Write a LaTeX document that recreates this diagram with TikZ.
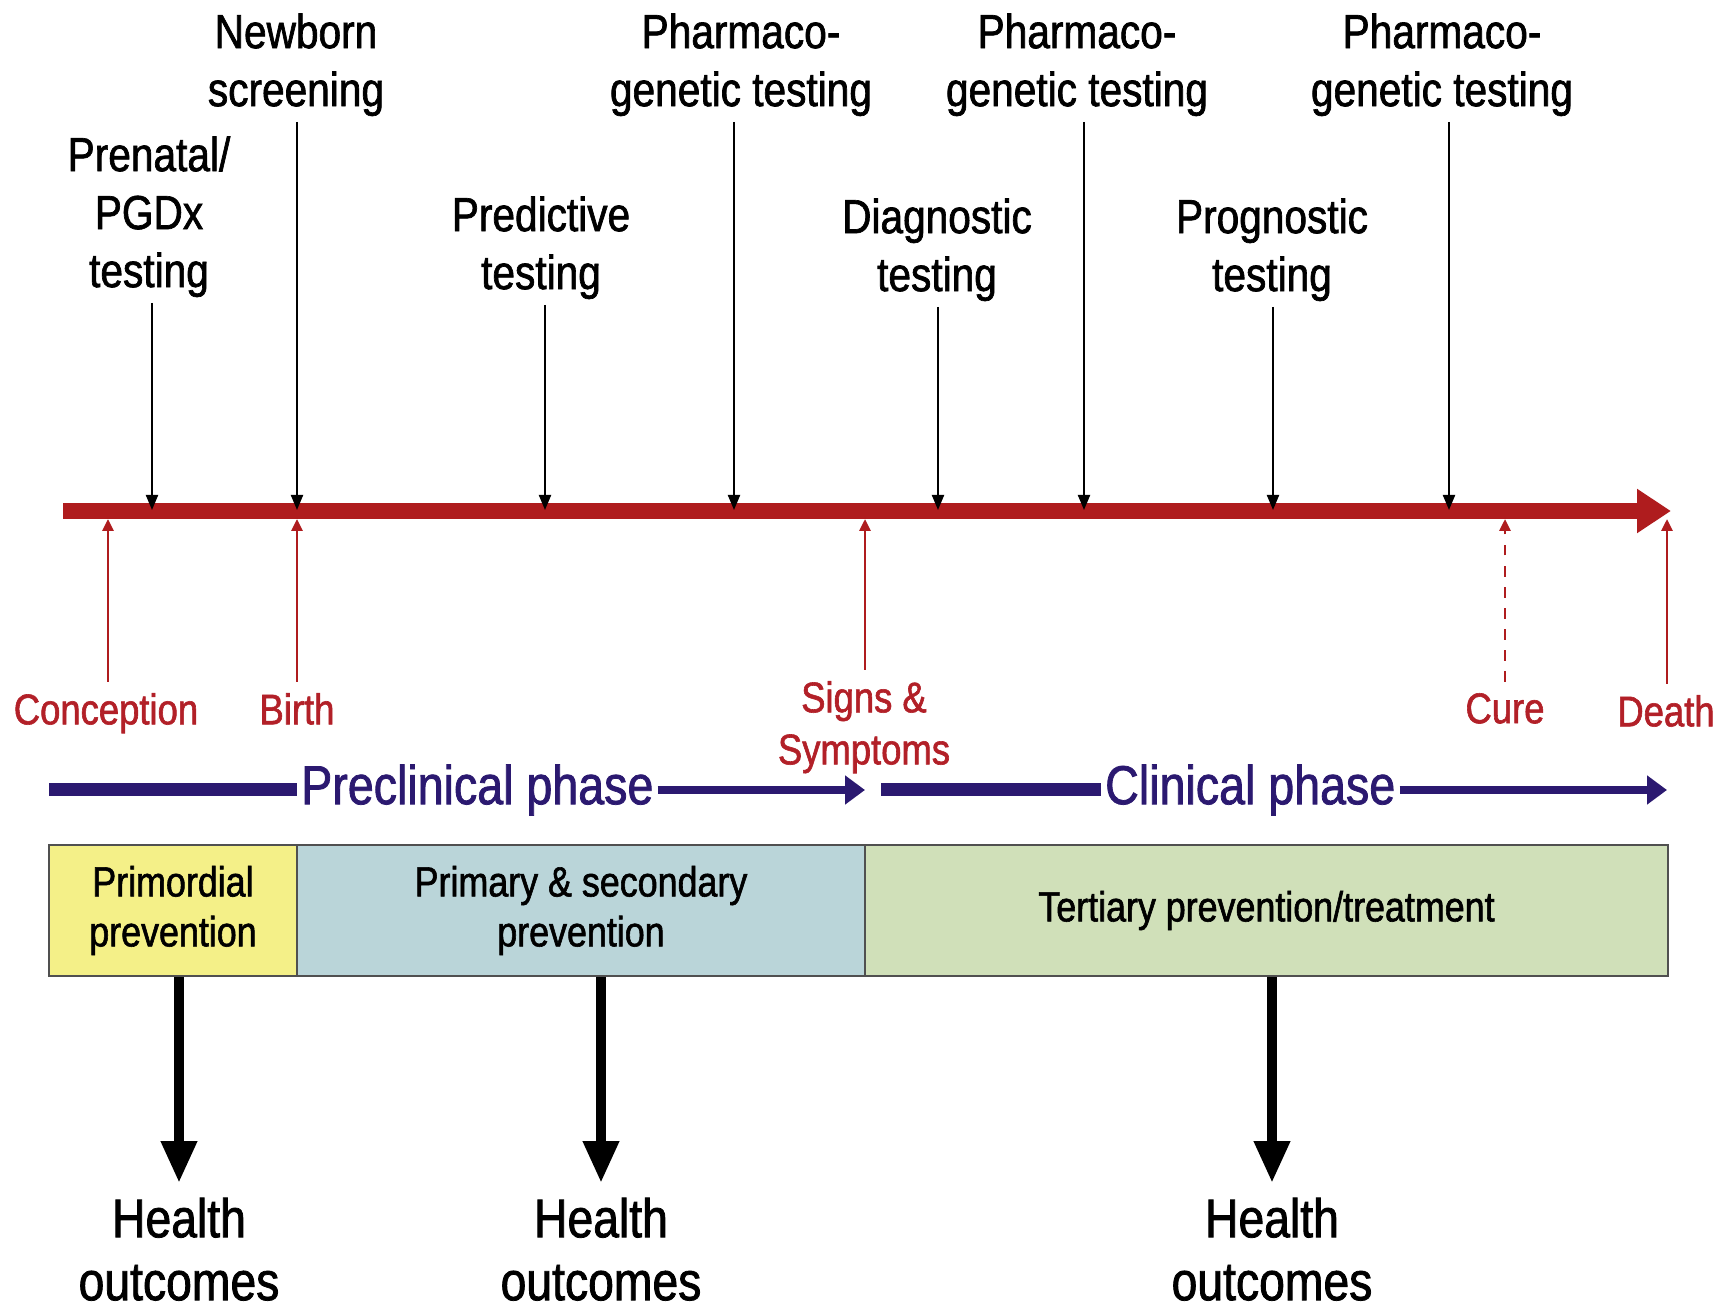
\documentclass[tikz,border=0pt]{standalone}
\usepackage{fontspec}
\setmainfont{Liberation Sans}[FakeStretch=0.85, FakeBold=1.4]
\usetikzlibrary{arrows.meta}
\definecolor{lifered}{RGB}{175,28,30}
\definecolor{eventred}{RGB}{178,32,40}
\definecolor{phaseblue}{RGB}{43,25,112}
\definecolor{stageyellow}{RGB}{244,240,136}
\definecolor{stageblue}{RGB}{186,213,217}
\definecolor{stagegreen}{RGB}{208,224,185}
\definecolor{stageline}{RGB}{80,80,80}
\begin{document}
\begin{tikzpicture}[x=0.1mm, y=-0.1mm,
  timeline/.style={lifered, line width=1.6mm, -{Triangle[length=3.4mm,width=4.2mm]}},
  test/.style={align=center, font=\fontsize{13.6}{16.5}\selectfont, inner sep=1.5pt},
  testarrow/.style={line width=0.6pt, -{Triangle[length=1.5mm,width=1.2mm]}},
  event/.style={eventred, align=center, font=\fontsize{12.2}{14.8}\selectfont, inner sep=3pt},
  eventarrow/.style={lifered, line width=0.8pt, -{Triangle[length=1.2mm,width=1.1mm]}},
  phase/.style={phaseblue, font=\fontsize{15.6}{18}\selectfont, inner sep=1pt},
  phasebar/.style={phaseblue, line width=1.3mm},
  phasearrow/.style={phaseblue, line width=0.75mm, -{Triangle[length=2mm,width=2.8mm]}},
  stage/.style={draw=stageline, line width=0.6pt, minimum height=13.1mm, align=center, font=\fontsize{12}{14.2}\selectfont},
  outcome/.style={align=center, font=\fontsize{15.5}{17.9}\selectfont, inner sep=4pt},
  outarrow/.style={line width=1mm, -{Triangle[length=4.2mm,width=3.4mm]}}
]
\useasboundingbox (0,0) rectangle (1715,1307);

% life course line
\coordinate (tl0) at (63,511);
\coordinate (tl1) at (1671,511);
\draw[timeline] (tl0) -- (tl1);

% tests from above
\coordinate (tp1) at (152,510);
\coordinate (tp2) at (297,510);
\coordinate (tp3) at (545,510);
\coordinate (tp4) at (734,510);
\coordinate (tp5) at (938,510);
\coordinate (tp6) at (1084,510);
\coordinate (tp7) at (1273,510);
\coordinate (tp8) at (1449,510);
\node[test, anchor=south] (prenatal) at (149,303) {Prenatal/\\PGDx\\testing};
\node[test, anchor=south] (newborn) at (296,122) {Newborn\\screening};
\node[test, anchor=south] (predictive) at (541,305) {Predictive\\testing};
\node[test, anchor=south] (pharmaA) at (741,122) {Pharmaco-\\genetic testing};
\node[test, anchor=south] (diagnostic) at (937,307) {Diagnostic\\testing};
\node[test, anchor=south] (pharmaB) at (1077,122) {Pharmaco-\\genetic testing};
\node[test, anchor=south] (prognostic) at (1272,307) {Prognostic\\testing};
\node[test, anchor=south] (pharmaC) at (1442,122) {Pharmaco-\\genetic testing};
\draw[testarrow] (prenatal.south -| tp1) -- (tp1);
\draw[testarrow] (newborn.south -| tp2) -- (tp2);
\draw[testarrow] (predictive.south -| tp3) -- (tp3);
\draw[testarrow] (pharmaA.south -| tp4) -- (tp4);
\draw[testarrow] (diagnostic.south -| tp5) -- (tp5);
\draw[testarrow] (pharmaB.south -| tp6) -- (tp6);
\draw[testarrow] (prognostic.south -| tp7) -- (tp7);
\draw[testarrow] (pharmaC.south -| tp8) -- (tp8);

% life events from below
\coordinate (ev1) at (108,519);
\coordinate (ev2) at (297,519);
\coordinate (ev3) at (865,519);
\coordinate (ev4) at (1505,519);
\coordinate (ev5) at (1667,519);
\node[event, anchor=north] (conception) at (106,682) {Conception};
\node[event, anchor=north] (birth) at (297,682) {Birth};
\node[event, anchor=north] (signs) at (864,670) {Signs \&\\Symptoms};
\node[event, anchor=north] (cure) at (1505,682) {Cure};
\node[event, anchor=north] (death) at (1666,684) {Death};
\draw[eventarrow] (conception.north -| ev1) -- (ev1);
\draw[eventarrow] (birth.north -| ev2) -- (ev2);
\draw[eventarrow] (signs.north -| ev3) -- (ev3);
\draw[eventarrow, dashed] (cure.north -| ev4) -- (ev4);
\draw[eventarrow] (death.north -| ev5) -- (ev5);

% phases
\coordinate (pc0) at (49,790);
\coordinate (pc1) at (865,790);
\coordinate (cl0) at (881,790);
\coordinate (cl1) at (1667,790);
\node[phase, anchor=west] (preclin) at (297,790) {Preclinical phase};
\node[phase, anchor=west] (clin) at (1101,790) {Clinical phase};
\draw[phasebar] (pc0) -- (preclin.west);
\draw[phasearrow] (preclin.east) -- (pc1);
\draw[phasebar] (cl0) -- (clin.west);
\draw[phasearrow] (clin.east) -- (cl1);

% prevention stages
\node[stage, fill=stageyellow, minimum width=24.8mm] (primordial) at (173,910.5) {Primordial\\prevention};
\node[stage, fill=stageblue, minimum width=56.8mm] (primsec) at (581,910.5) {Primary \& secondary\\prevention};
\node[stage, fill=stagegreen, minimum width=80.3mm] (tertiary) at (1266.5,910.5) {Tertiary prevention/treatment};

% outcomes
\node[outcome, anchor=north] (outA) at (179,1183) {Health\\outcomes};
\node[outcome, anchor=north] (outB) at (601,1183) {Health\\outcomes};
\node[outcome, anchor=north] (outC) at (1272,1183) {Health\\outcomes};
\draw[outarrow] (outA.north |- primordial.south) -- (outA.north);
\draw[outarrow] (outB.north |- primsec.south) -- (outB.north);
\draw[outarrow] (outC.north |- tertiary.south) -- (outC.north);
\end{tikzpicture}
\end{document}
